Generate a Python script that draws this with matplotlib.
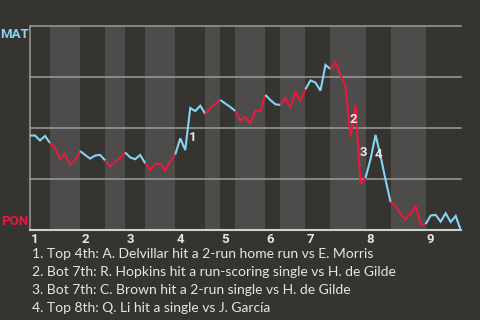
import matplotlib
matplotlib.use("Agg")
import matplotlib.pyplot as plt

# MAT win probability after each play (0 = PON wins, 1 = MAT wins)
win_prob = [
    0.463, 0.463, 0.439, 0.461, 0.426,                # T1
    0.402, 0.348, 0.373, 0.319, 0.343, 0.387,         # B1
    0.368, 0.350, 0.365, 0.368, 0.341,                # T2
    0.311, 0.333, 0.355, 0.380,                       # B2
    0.356, 0.347, 0.368, 0.327,                       # T3
    0.294, 0.324, 0.324, 0.292, 0.338, 0.370,         # B3
    0.449, 0.392, 0.598, 0.583, 0.609, 0.569,         # T4
    0.597, 0.618, 0.637,                              # B4
    0.620, 0.603, 0.583,                              # T5
    0.537, 0.554, 0.525, 0.583, 0.583, 0.662,         # B5
    0.637, 0.616, 0.613,                              # T6
    0.646, 0.600, 0.678, 0.632, 0.690,                # B6
    0.733, 0.723, 0.683, 0.809, 0.789,                # T7
    0.822, 0.760, 0.706, 0.456, 0.613, 0.225, 0.255,  # B7
    0.348, 0.466, 0.363, 0.245, 0.137,                # T8
    0.118, 0.078, 0.052, 0.081, 0.118, 0.029, 0.029,  # B8
    0.071, 0.074, 0.041, 0.082, 0.039, 0.069, 0.000,  # T9
]

# index of the first play of each half-inning (top, bottom, top, ...)
half_starts = [0, 4, 10, 15, 19, 23, 29, 35, 38, 41, 47, 50, 55, 60, 67, 72, 79]
inning_labels = ["1", "2", "3", "4", "5", "6", "7", "8", "9"]

# key plays (index) and their labels
key_plays = [32, 64, 66, 69]
key_labels = ["1", "2", "3", "4"]

captions = [
    "1. Top 4th: A. Delvillar hit a 2-run home run vs E. Morris",
    "2. Bot 7th: R. Hopkins hit a run-scoring single vs H. de Gilde",
    "3. Bot 7th: C. Brown hit a 2-run single vs H. de Gilde",
    "4. Top 8th: Q. Li hit a single vs J. García",
]

team_top = "MAT"
team_bottom = "PON"

BG = "#363430"
BAND = "#4e4c4a"
GRID = "#9e9c9a"
BLUE = "#87d4f2"
RED = "#e8193c"
TXT = "#e6e6e6"
FONT = "Lato"
BFONT = "Roboto"

W, H = 480, 320
fig = plt.figure(figsize=(W / 100, H / 100), dpi=100, facecolor=BG)
ax = fig.add_axes([30 / W, 90 / H, 430.7 / W, 204 / H])
ax.set_facecolor(BG)

n_last = len(win_prob) - 1
ax.set_xlim(0, n_last)
ax.set_ylim(0, 1)

bounds = half_starts + [n_last]
for k in range(len(half_starts)):
    a, b = bounds[k], bounds[k + 1]
    if k % 2 == 1:
        ax.axvspan(a, b, color=BAND, lw=0, zorder=0)
    color = BLUE if k % 2 == 0 else RED
    xs = list(range(a, b + 1))
    ax.plot(xs, win_prob[a:b + 1], color=color, lw=1.5, zorder=3,
            solid_joinstyle="miter", solid_capstyle="butt")

for yv in [0.25, 0.5, 0.75, 1.0]:
    ax.axhline(yv, color=GRID, lw=1.1, zorder=1, clip_on=False)

for s in ["top", "right"]:
    ax.spines[s].set_visible(False)
ax.spines["left"].set_color(GRID)
ax.spines["left"].set_linewidth(1.1)
ax.spines["bottom"].set_color("#d0d0d0")
ax.spines["bottom"].set_linewidth(1.5)
ax.spines["left"].set_zorder(2)
ax.set_xticks([])
ax.set_yticks([])

# inning labels at start of each inning
for i, lab in enumerate(inning_labels):
    ax.annotate(lab, xy=(half_starts[2 * i], 0), xytext=(1, -3),
                textcoords="offset pixels", ha="left", va="top",
                fontsize=9.5, fontweight="bold", color=TXT, family=BFONT,
                annotation_clip=False)

# key play labels
for idx, lab in zip(key_plays, key_labels):
    xm = idx - 0.5
    ym = (win_prob[idx - 1] + win_prob[idx]) / 2
    ax.annotate(lab, xy=(xm, ym), xytext=(5, -8), textcoords="offset pixels",
                ha="center", va="center", fontsize=9.5, fontweight="bold",
                color=TXT, family=BFONT, zorder=5)

fig.text(28.5 / W, 1 - 28 / H, team_top, ha="right", va="top",
         fontsize=9.5, fontweight="bold", color=BLUE, family=BFONT)
fig.text(28 / W, 1 - 225 / H, team_bottom, ha="right", va="baseline",
         fontsize=9.5, fontweight="bold", color=RED, family=BFONT)

for j, line in enumerate(captions):
    fig.text(32 / W, 1 - (258.5 + 18 * j) / H, line, ha="left",
             va="baseline", fontsize=10, color=TXT, family=FONT)

fig.savefig("out.png", dpi=100, facecolor=BG)
